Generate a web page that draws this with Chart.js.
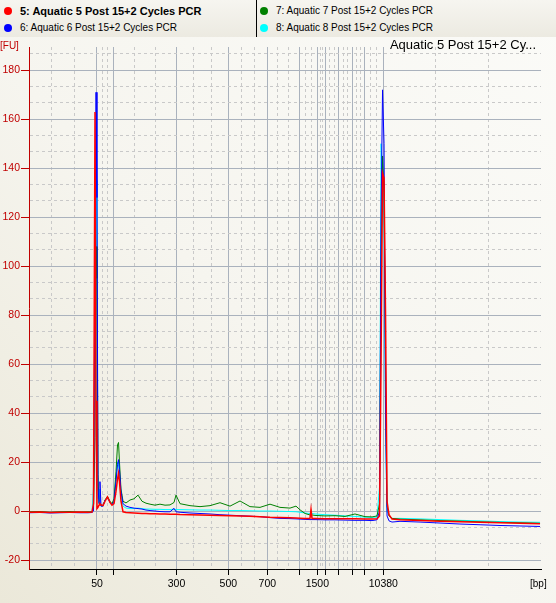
<!DOCTYPE html>
<html lang="en">
<head>
<meta charset="UTF-8">
<title>Aquatic 5 Post 15+2 Cycles PCR</title>
<script src="https://cdn.jsdelivr.net/npm/chart.js"></script>
<style>
    body { margin: 0; width: 556px; height: 603px; overflow: hidden; position: relative;
           font-family: "Liberation Sans", Arial, sans-serif; font-size: 10px; color: #000;
           background: linear-gradient(to top right, #ebe8d9 0%, #f6f5ef 45%, #fbfbf8 100%); }
    #legend { position: absolute; left: 0; top: 0; width: 556px; height: 37px; z-index: 2;
              background: linear-gradient(#f6f5f0, #eceae1); }
    #legend .sep { position: absolute; left: 256px; top: 0; width: 1px; height: 37px; background: #000; }
    .dot { position: absolute; width: 8px; height: 8px; border-radius: 50%; }
    .txt { position: absolute; white-space: nowrap; line-height: 12px; }
    #chart { position: absolute; left: 0; top: 0; }
</style>
</head>
<body>
    <div id="legend">
        <div class="dot" style="left:4px; top:7px; background:#ff0000"></div>
        <div class="txt" style="left:20px; top:5px; font-weight:bold; font-size:11px">5: Aquatic 5 Post 15+2 Cycles PCR</div>
        <div class="dot" style="left:4px; top:24px; background:#0000ff"></div>
        <div class="txt" style="left:20px; top:22px">6: Aquatic 6 Post 15+2 Cycles PCR</div>
        <div class="sep"></div>
        <div class="dot" style="left:260px; top:7px; background:#008000"></div>
        <div class="txt" style="left:276px; top:5px">7: Aquatic 7 Post 15+2 Cycles PCR</div>
        <div class="dot" style="left:260px; top:24px; background:#00ffff"></div>
        <div class="txt" style="left:276px; top:22px">8: Aquatic 8 Post 15+2 Cycles PCR</div>
    </div>
    <div class="txt" style="left:0; top:40px; color:#c00000; z-index:2">[FU]</div>
    <div class="txt" style="right:20px; top:38px; font-size:13px; line-height:14px; z-index:2">Aquatic 5 Post 15+2 Cy...</div>
    <div class="txt" style="left:530px; top:578px; z-index:2">[bp]</div>
    <canvas id="chart" width="556" height="603"></canvas>

<script>
// migration time (s), shared by all four samples
const times = [40.00, 41.83, 43.50, 45.17, 46.83, 48.50, 49.83,
    50.50, 50.75, 51.00, 51.17, 51.33, 51.50, 51.67, 51.83, 52.00,
    52.33, 52.67, 53.08, 53.50, 53.83, 54.17, 54.50, 54.75, 54.92, 55.08, 55.33, 55.67, 56.17, 56.83,
    57.50, 58.17, 58.83, 59.50, 60.17, 61.00, 61.83, 62.67, 63.50, 64.17, 64.50,
    65.17, 66.83, 68.50, 70.17, 71.83, 73.50, 75.17, 76.83, 78.50, 80.17, 81.83, 83.50, 84.50, 85.17,
    86.00, 86.83, 87.00, 87.17, 87.67, 89.33, 91.00, 92.67, 94.33, 96.00, 97.17, 98.00,
    98.42, 98.67, 98.92, 99.17, 99.42, 99.67, 100.00, 100.50,
    101.83, 105.17, 108.50, 111.83, 115.17, 118.50, 121.83, 125.17];

// fluorescence [FU]
const sample5 = [-0.5, -0.4, -0.6, -0.5, -0.5, -0.4, -0.5,
    -0.4, 3, 163, 45, 1, 1.5, 2.5, 3, 2.5,
    2.2, 4, 5.8, 3.5, 2.4, 3, 8, 13, 15.4, 12, 4, -0.3, -0.6, -0.7,
    -0.8, -0.9, -1.0, -1.0, -1.1, -1.1, -1.2, -1.2, -1.3, -1.3, -1.3,
    -1.4, -1.5, -1.6, -1.7, -1.8, -1.9, -2.0, -2.1, -2.3, -2.5, -2.6, -2.7, -2.8, -2.9,
    -3.0, -3.0, 0.7, -3.0, -3.0, -3.1, -3.1, -3.2, -3.2, -3.3, -3.3, -3.2,
    -2, 60, 138, 136, 80, 4, -1.5, -3.3,
    -3.6, -3.9, -4.2, -4.4, -4.6, -4.8, -5.0, -5.2];
const sample6 = [-0.7, -0.6, -0.8, -0.7, -0.6, -0.7, -0.7,
    -0.6, 0, 95, 171, 128, 10, 3, 12, 2,
    2, 4.5, 5.5, 3.5, 2.5, 4, 12, 19, 21, 17, 8, 3, 2, 1.5,
    1.2, 1.0, 0.8, 0.4, 0.2, 0.0, -0.2, -0.3, -0.3, 1.1, -0.3,
    -0.5, -0.8, -1.0, -1.2, -1.5, -1.7, -1.9, -2.1, -2.3, -2.7, -3.0, -3.1, -3.2, -3.3,
    -3.4, -3.5, -3.5, -3.5, -3.5, -3.6, -3.6, -3.7, -3.8, -3.8, -3.9, -3.6,
    0, 120, 172, 150, 40, -2, -4, -4.5,
    -4.2, -4.5, -4.9, -5.3, -5.6, -5.9, -6.1, -6.3];
const sample7 = [-0.3, -0.2, -0.5, -0.3, -0.2, -0.4, -0.3,
    -0.3, 1, 30, 108, 95, 15, 3, 3, 2.5,
    2.2, 4.5, 6, 4, 3, 5, 16, 27, 28, 20, 9, 4, 3.3, 4.5,
    5, 6.5, 4, 3.2, 2.8, 2.4, 2.8, 2.4, 2.5, 3.5, 6.5,
    3, 2.2, 1.8, 2.2, 3.4, 2, 4.1, 1.8, 1.5, 2.8, 1.5, 1.2, 2.0, 0.5,
    -1.0, -1.6, -1.5, -1.6, -1.8, -2.0, -1.9, -2.2, -1.2, -2.3, -2.4, -2.0,
    3, 100, 145, 130, 60, 2, -2, -3,
    -3.3, -3.6, -3.9, -4.1, -4.4, -4.6, -4.8, -5.0];
const sample8 = [-0.5, -0.5, -0.6, -0.5, -0.5, -0.5, -0.6,
    -0.5, 10, 60, 135, 30, 5, 9, 4, 2,
    2, 4.5, 5.5, 3.5, 2.5, 4, 14, 20, 19, 14, 6, 2, 1.2, 1,
    1, 1.2, 1, 0.8, 0.8, 0.7, 0.7, 0.6, 0.6, 0.8, 0.6,
    0.6, 0.5, 0.4, 0.4, 0.3, 0.2, 0.2, 0.1, 0, 0, -0.1, -0.2, -0.3, -0.5,
    -0.8, -1.0, -1.0, -1.0, -1.2, -1.5, -1.7, -2.0, -2.2, -2.5, -2.6, -2.5,
    10, 150, 140, 120, 30, 0, -2, -3,
    -3.0, -3.2, -3.5, -3.8, -4.0, -4.3, -4.5, -4.6];

// ladder peaks: time and bp label (empty = label hidden)
const ladderTimes = [51.33, 54.00, 64.58, 73.22, 79.72, 85.05, 88.05, 89.42, 91.58, 93.92, 95.88, 99.05];
const ladderLabels = ['50', '', '300', '500', '700', '', '1500', '', '', '', '', '10380'];
const fuLabels = [-20, 0, 20, 40, 60, 80, 100, 120, 140, 160, 180];

const xMin = 40, xMax = 125.33, yMin = -23.67, yMax = 189.5;

// each interval between two major lines gets two dashed lines
function withMinor(majors, lo, hi) {
    const edges = [lo, ...majors, hi];
    const out = [];
    for (let i = 0; i < edges.length - 1; i++) {
        const a = edges[i], d = (edges[i + 1] - a) / 3;
        if (i > 0) out.push({ value: a, major: true, idx: i - 1 });
        out.push({ value: a + d, major: false });
        out.push({ value: a + 2 * d, major: false });
    }
    return out;
}

const xTicks = withMinor(ladderTimes, xMin, xMax);
const yTicks = [];
for (let v = fuLabels[0]; v < yMax; v += 20) {
    yTicks.push({ value: v, major: true });
    if (v + 20 / 3 < yMax) yTicks.push({ value: v + 20 / 3, major: false });
    if (v + 40 / 3 < yMax) yTicks.push({ value: v + 40 / 3, major: false });
}

const font = { family: 'Liberation Sans', size: 10.5 };
const gridColor = c => c.tick && c.tick.major ? '#aab2bd' : '#c9c9c9';
const gridDash = c => c.tick && !c.tick.major ? [3, 3] : [];

function series(label, values, color, width) {
    return {
        label: label,
        data: values.map((v, i) => ({ x: times[i], y: v })),
        borderColor: color, borderWidth: width,
        pointRadius: 0, tension: 0, fill: false
    };
}

new Chart(document.getElementById('chart'), {
    type: 'line',
    data: {
        datasets: [
            series('5: Aquatic 5 Post 15+2 Cycles PCR', sample5, '#ff0000', 1.5),
            series('6: Aquatic 6 Post 15+2 Cycles PCR', sample6, '#0000ff', 1),
            series('7: Aquatic 7 Post 15+2 Cycles PCR', sample7, '#008000', 1),
            series('8: Aquatic 8 Post 15+2 Cycles PCR', sample8, '#00ffff', 1)
        ]
    },
    options: {
        responsive: false,
        animation: false,
        layout: { padding: { top: 47, right: 15, left: 0, bottom: 0 } },
        plugins: { legend: { display: false }, tooltip: { enabled: false } },
        scales: {
            x: {
                type: 'linear', min: xMin, max: xMax,
                afterBuildTicks: s => { s.ticks = xTicks.map(t => ({ ...t })); },
                afterFit: s => { s.height = 34; },
                ticks: {
                    autoSkip: false, maxRotation: 0, padding: 3, color: '#000', font: font,
                    callback: (v, i, ticks) => ticks[i].major ? ladderLabels[ticks[i].idx] : ''
                },
                grid: {
                    color: gridColor, lineWidth: 1, tickLength: 6,
                    tickColor: c => c.tick && c.tick.major ? '#000' : 'rgba(0,0,0,0)'
                },
                border: { color: '#000', width: 1, dash: gridDash }
            },
            y: {
                type: 'linear', min: yMin, max: yMax,
                afterBuildTicks: s => { s.ticks = yTicks.map(t => ({ ...t })); },
                afterFit: s => { s.width = 29; },
                ticks: {
                    autoSkip: false, padding: 1, color: '#c00000', font: font,
                    callback: (v, i, ticks) => ticks[i].major ? String(Math.round(v)) : ''
                },
                grid: {
                    color: gridColor, lineWidth: 1, tickLength: 8,
                    tickColor: c => c.tick && c.tick.major ? '#c00000' : 'rgba(0,0,0,0)'
                },
                border: { color: '#c00000', width: 1, dash: gridDash }
            }
        }
    }
});
</script>
</body>
</html>
